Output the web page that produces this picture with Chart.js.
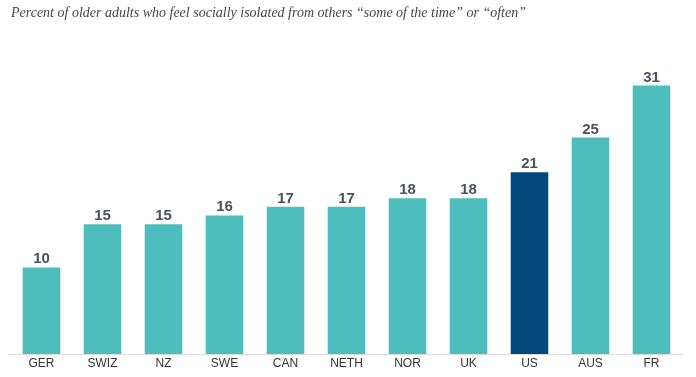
<!DOCTYPE html>
<html>
<head>
<meta charset="utf-8">
<script src="https://cdn.jsdelivr.net/npm/chart.js@4/dist/chart.umd.min.js"></script>
<style>
html,body{margin:0;padding:0;background:#fff;}
#wrap{width:696px;height:377px;position:relative;}
</style>
</head>
<body>
<div id="wrap"><canvas id="c" width="696" height="377"></canvas></div>
<script>
const categories = ["GER","SWIZ","NZ","SWE","CAN","NETH","NOR","UK","US","AUS","FR"];
const values = [10,15,15,16,17,17,18,18,21,25,31];
const titleText = "Percent of older adults who feel socially isolated from others \u201csome of the time\u201d or \u201coften\u201d";

const barColors = categories.map(c => c === "US" ? "#034a7c" : "#4dbdbd");

const valueLabels = {
  id: "valueLabels",
  afterDatasetsDraw(chart) {
    const ctx = chart.ctx;
    const meta = chart.getDatasetMeta(0);
    ctx.save();
    ctx.font = "bold 15px 'Liberation Sans', Arial, sans-serif";
    ctx.fillStyle = "#4a5260";
    ctx.textAlign = "center";
    ctx.textBaseline = "alphabetic";
    meta.data.forEach((bar, i) => {
      ctx.fillText(String(values[i]), bar.x, bar.y - 4);
    });
    ctx.restore();
  }
};

const baseLine = {
  id: "baseLine",
  afterDatasetsDraw(chart) {
    const ctx = chart.ctx;
    const y = chart.scales.y.getPixelForValue(0);
    ctx.save();
    ctx.strokeStyle = "#dcdcdc";
    ctx.lineWidth = 1;
    ctx.beginPath();
    ctx.moveTo(8, Math.round(y) + 0.5);
    ctx.lineTo(683, Math.round(y) + 0.5);
    ctx.stroke();
    ctx.restore();
  }
};

new Chart(document.getElementById("c"), {
  type: "bar",
  data: {
    labels: categories,
    datasets: [{
      data: values,
      backgroundColor: barColors,
      borderWidth: 0,
      categoryPercentage: 1,
      barPercentage: 0.616
    }]
  },
  options: {
    responsive: false,
    animation: false,
    layout: { padding: { left: 11, right: 14, top: 0, bottom: 0 } },
    plugins: {
      legend: { display: false },
      tooltip: { enabled: false },
      title: {
        display: true,
        text: titleText,
        align: "start",
        color: "#444",
        font: { family: "'Liberation Serif', 'Times New Roman', serif", style: "italic", size: 14, weight: "normal" },
        padding: { top: 5, bottom: 40 }
      }
    },
    scales: {
      x: {
        grid: { display: false, drawTicks: false, tickLength: 0 },
        border: { display: false },
        afterFit(scale) { scale.height = 23; },
        ticks: {
          color: "#333",
          font: { family: "'Liberation Sans', Arial, sans-serif", size: 12 },
          padding: 2
        }
      },
      y: {
        display: false,
        min: 0,
        max: 33.75
      }
    }
  },
  plugins: [valueLabels, baseLine]
});
</script>
</body>
</html>
